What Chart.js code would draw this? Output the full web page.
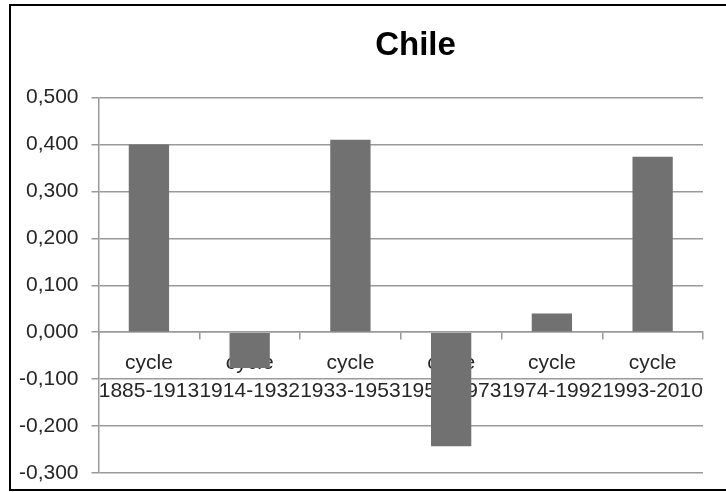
<!DOCTYPE html>
<html>
<head>
<meta charset="utf-8">
<script src="https://cdn.jsdelivr.net/npm/chart.js@4"></script>
<style>
  html, body { margin: 0; padding: 0; background: #fff; overflow: hidden; }
  #wrap { position: relative; width: 726px; height: 492px; }
  #frame {
    position: absolute; left: 9px; top: 4px; width: 760px; height: 487px;
    box-sizing: border-box; border: 2px solid #000; pointer-events: none;
  }
</style>
</head>
<body>
<div id="wrap">
  <canvas id="chileChart" width="726" height="492"></canvas>
  <div id="frame"></div>
</div>
<script>
  var chartTitle = 'Chile';
  var periods = ['1885-1913', '1914-1932', '1933-1953', '1954-1973', '1974-1992', '1993-2010'];
  var cycleValues = [0.400, -0.076, 0.410, -0.243, 0.040, 0.374];
  var yMin = -0.3;
  var yMax = 0.5;
  var yStep = 0.1;

  var fontFamily = "'Liberation Sans', Arial, sans-serif";
  var gridColor = '#9a9a9a';

  // Excel puts the title a bit right of the canvas centre
  var shiftTitle = {
    id: 'shiftTitle',
    afterLayout: function(chart) {
      if (chart.titleBlock) {
        chart.titleBlock.left += 61;
        chart.titleBlock.right += 61;
      }
    }
  };

  var ctx = document.getElementById('chileChart').getContext('2d');
  var chileChart = new Chart(ctx, {
    type: 'bar',
    data: {
      labels: periods.map(function(p) { return ['cycle', p]; }),
      datasets: [{
        data: cycleValues,
        backgroundColor: '#717171',
        borderWidth: 0,
        barPercentage: 0.4,
        categoryPercentage: 1.0
      }]
    },
    plugins: [shiftTitle],
    options: {
      responsive: false,
      animation: false,
      layout: { padding: { left: 6, right: 23, top: 0, bottom: 19 } },
      plugins: {
        legend: { display: false },
        tooltip: { enabled: false },
        title: {
          display: true,
          text: chartTitle,
          color: '#000',
          font: { family: fontFamily, size: 33, weight: 'bold', lineHeight: 1.2 },
          padding: { top: 26, bottom: 32 }
        }
      },
      scales: {
        x: {
          position: { y: 0 },
          z: 1,
          offset: true,
          grid: {
            display: true,
            drawOnChartArea: false,
            drawTicks: true,
            tickLength: 7,
            color: gridColor,
            lineWidth: 1.5
          },
          border: { display: true, color: gridColor, width: 1.5 },
          ticks: {
            color: '#262626',
            font: { family: fontFamily, size: 21, lineHeight: 1.33 },
            padding: 10,
            autoSkip: false,
            maxRotation: 0,
            minRotation: 0
          }
        },
        y: {
          min: yMin,
          max: yMax,
          grid: {
            color: gridColor,
            lineWidth: 1.5,
            drawTicks: true,
            tickLength: 7
          },
          border: { display: true, color: gridColor, width: 1.5 },
          ticks: {
            stepSize: yStep,
            color: '#262626',
            font: { family: fontFamily, size: 21, lineHeight: 0.5 },
            padding: 13,
            callback: function(v) {
              if (Math.abs(v) < 1e-9) v = 0;
              return Number(v).toFixed(3).replace('.', ',');
            }
          }
        }
      }
    }
  });
</script>
</body>
</html>
